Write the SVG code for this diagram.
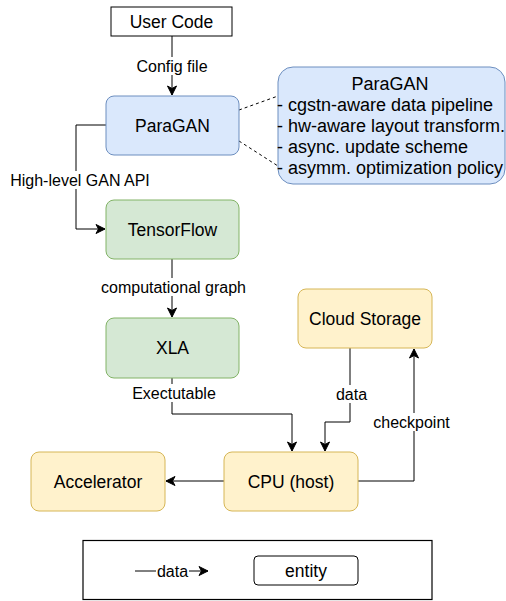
<svg xmlns="http://www.w3.org/2000/svg" width="506" height="601" viewBox="0 0 506 601">
<defs>
<marker id="arr" markerWidth="12" markerHeight="12" refX="10" refY="6" orient="auto" markerUnits="userSpaceOnUse">
<path d="M1,1.5 L10,6 L1,10.5 L3.5,6 Z" fill="#000" stroke="#000" stroke-width="1"/>
</marker>
<style>
text{font-family:"Liberation Sans",Arial,Helvetica,sans-serif;fill:#000}
.n{font-size:17.5px;text-anchor:middle;dominant-baseline:central}
.l{font-size:16px;text-anchor:middle;dominant-baseline:central}
.d{font-size:18px;dominant-baseline:central}
.blue{fill:#dae8fc;stroke:#6c8ebf;stroke-width:1}
.green{fill:#d5e8d4;stroke:#82b366;stroke-width:1}
.yellow{fill:#fff2cc;stroke:#d6b656;stroke-width:1}
.e{fill:none;stroke:#000;stroke-width:1}
.lbg{fill:#fff}
</style>
</defs>
<rect width="506" height="601" fill="#fff"/>
<g id="connectors">
<path class="e" d="M172,36 V95" marker-end="url(#arr)"/>
<rect class="lbg" x="134" y="57" width="76" height="18"/>
<text class="l" x="172" y="66">Config file</text>
<path class="e" d="M239,110 L278,96" stroke-dasharray="3,3"/>
<path class="e" d="M239,141 L278,166" stroke-dasharray="3,3"/>
<path class="e" d="M106,125 H76 V229 H105" marker-end="url(#arr)"/>
<rect class="lbg" x="6" y="171" width="148" height="18"/>
<text class="l" x="80" y="180.5">High-level GAN API</text>
<path class="e" d="M172,259 V317" marker-end="url(#arr)"/>
<rect class="lbg" x="98" y="278" width="151" height="18"/>
<text class="l" x="173.5" y="287">computational graph</text>
<path class="e" d="M172,378 V414 H292 V451" marker-end="url(#arr)"/>
<rect class="lbg" x="130" y="384" width="88" height="18"/>
<text class="l" x="174" y="393">Exectutable</text>
<path class="e" d="M350,348 V422 H325 V451" marker-end="url(#arr)"/>
<rect class="lbg" x="334" y="385" width="35" height="18"/>
<text class="l" x="351.5" y="394">data</text>
<path class="e" d="M358,481 H414 V349" marker-end="url(#arr)"/>
<rect class="lbg" x="371" y="413" width="81" height="18"/>
<text class="l" x="411.5" y="422">checkpoint</text>
<path class="e" d="M224,481 H166" marker-end="url(#arr)"/>
</g>
<g id="usercode">
<rect x="111" y="7" width="121" height="29" fill="#fff" stroke="#000" stroke-width="1"/>
<text class="n" x="171.5" y="21.5">User Code</text>
</g>
<g id="paragan">
<rect class="blue" x="106" y="96" width="133" height="59" rx="8"/>
<text class="n" x="172.5" y="125.5">ParaGAN</text>
</g>
<g id="paragan-detail">
<rect class="blue" x="278" y="67" width="227" height="117" rx="15"/>
<text class="d" x="390" y="83.5" text-anchor="middle">ParaGAN</text>
<text class="d" x="277" y="104.5">- cgstn-aware data pipeline</text>
<text class="d" x="277" y="125.5">- hw-aware layout transform.</text>
<text class="d" x="277" y="146.5">- async. update scheme</text>
<text class="d" x="277" y="167.5">- asymm. optimization policy</text>
</g>
<g id="tensorflow">
<rect class="green" x="106" y="200" width="133" height="59" rx="8"/>
<text class="n" x="172.5" y="229.5">TensorFlow</text>
</g>
<g id="xla">
<rect class="green" x="106" y="318" width="133" height="60" rx="8"/>
<text class="n" x="172.5" y="348">XLA</text>
</g>
<g id="cloud">
<rect class="yellow" x="298" y="289" width="134" height="59" rx="8"/>
<text class="n" x="365" y="318.5">Cloud Storage</text>
</g>
<g id="cpu">
<rect class="yellow" x="224" y="452" width="134" height="59" rx="8"/>
<text class="n" x="291" y="481.5">CPU (host)</text>
</g>
<g id="accel">
<rect class="yellow" x="31" y="452" width="134" height="59" rx="8"/>
<text class="n" x="98" y="481.5">Accelerator</text>
</g>
<g id="legend">
<rect x="83" y="540.5" width="349" height="59" fill="#fff" stroke="#000" stroke-width="1.2"/>
<path class="e" d="M135,571 H208" marker-end="url(#arr)"/>
<rect class="lbg" x="156" y="562" width="33" height="18"/>
<text class="l" x="172.5" y="571">data</text>
<rect x="254" y="556" width="104" height="29" rx="4" fill="#fff" stroke="#000" stroke-width="1"/>
<text class="n" x="306" y="570.5">entity</text>
</g>
</svg>
